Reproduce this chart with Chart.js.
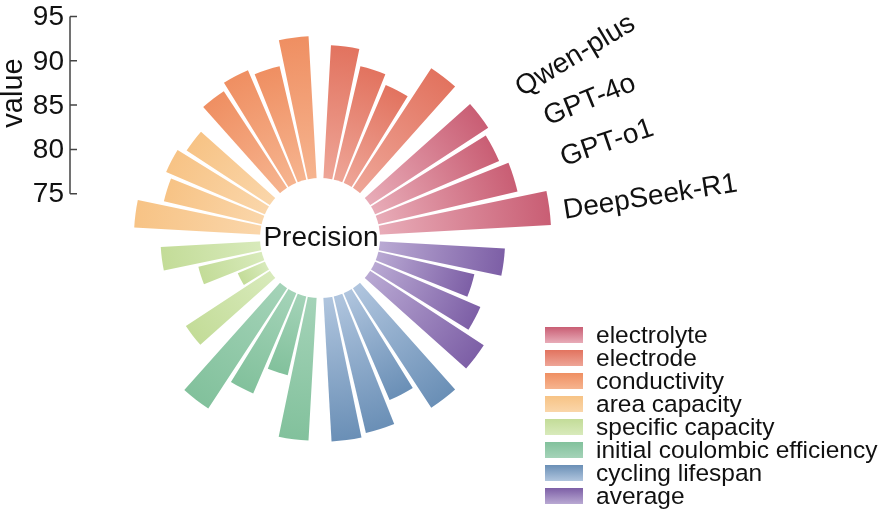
<!DOCTYPE html>
<html lang="en">
<head>
    <meta charset="UTF-8">
    <title>Precision</title>
    <script src="https://cdn.jsdelivr.net/npm/chart.js"></script>
    <style>
        html, body { margin: 0; padding: 0; background: #fff; }
        #wrap { position: relative; width: 883px; height: 512px; }
    </style>
</head>
<body>
<div id="wrap"><canvas id="myChart" width="883" height="512"></canvas></div>
<script>
// categories, counter-clockwise from the right
const categories = ['electrolyte', 'electrode', 'conductivity', 'area capacity',
    'specific capacity', 'initial coulombic efficiency', 'cycling lifespan', 'average'];
// models, counter-clockwise inside each group
const models = ['DeepSeek-R1', 'GPT-o1', 'GPT-4o', 'Qwen-plus'];

const deepseek = [96.1, 92.9, 92.8, 88.0, 88.0, 93.0, 93.0, 92.1];
const gpto1    = [92.9, 88.8, 89.9, 88.9, 84.1, 89.1, 92.6, 89.7];
const gpt4o    = [92.0, 89.9, 90.6, 88.1, 80.1, 85.9, 89.9, 87.9];
const qwen     = [92.7, 91.8, 89.8, 91.0, 88.1, 92.9, 92.9, 90.9];

const valueTicks = [75, 80, 85, 90, 95];

// styles
const outerColors = ['#c95e74', '#e2735f', '#ef8f62', '#f7c385', '#c3dc98', '#82c19c', '#6a8fb6', '#7d5fa6'];
const innerColors = ['#e8acb8', '#eea597', '#f6b48f', '#fad6aa', '#d8eabb', '#a4d3b8', '#b0c5de', '#b9a9d3'];
// model label placement: tilt, extra angle (deg) and distance from the centre (px)
const labelTilt  = [9, 19, 22, 31];
const labelShift = [-1.2, 0.65, 0.5, -0.8];
const labelDist  = [245, 254, 255, 247];
const FONT = '"Liberation Sans", Arial, sans-serif';
const HOLE_R = 60;
const BAR_DEG = 8.5, SMALL_GAP = 1.5, BIG_GAP = 6.5;

// build the element list clockwise (Chart.js draws clockwise)
const series = [deepseek, gpto1, gpt4o, qwen];
const items = [];
for (let c = categories.length - 1; c >= 0; c--) {
    for (let m = models.length - 1; m >= 0; m--) {
        items.push({ value: series[m][c], angle: BAR_DEG, cat: c, model: m, gap: false });
        items.push({ value: 70, angle: m > 0 ? SMALL_GAP : BIG_GAP, cat: c, model: m, gap: true });
    }
}

const decor = {
    id: 'decor',
    afterDatasetsDraw(chart) {
        const c = chart.ctx;
        const r = chart.scales.r;
        const cx = r.xCenter, cy = r.yCenter;
        const meta = chart.getDatasetMeta(0);
        c.save();

        // hole + title
        c.fillStyle = '#fff';
        c.beginPath();
        c.arc(cx, cy, HOLE_R, 0, Math.PI * 2);
        c.fill();
        c.fillStyle = '#111';
        c.font = '28px ' + FONT;
        c.textAlign = 'center';
        c.textBaseline = 'middle';
        c.fillText('Precision', cx + 1, cy);

        // value axis, same scale as the radius
        const ax = 70;
        const yOf = v => cy - r.getDistanceFromCenterForValue(v);
        c.strokeStyle = '#444';
        c.lineWidth = 1.5;
        c.beginPath();
        c.moveTo(ax, yOf(valueTicks[0]));
        c.lineTo(ax, yOf(valueTicks[valueTicks.length - 1]));
        valueTicks.forEach(v => {
            c.moveTo(ax, yOf(v));
            c.lineTo(ax + 7, yOf(v));
        });
        c.stroke();
        c.fillStyle = '#111';
        c.font = '28px ' + FONT;
        c.textAlign = 'right';
        valueTicks.forEach(v => c.fillText(String(v), ax - 6, yOf(v) + 1));
        c.save();
        c.translate(14, 93);
        c.rotate(-Math.PI / 2);
        c.textAlign = 'center';
        c.font = '29px ' + FONT;
        c.fillText('value', 0, 0);
        c.restore();

        // model labels next to the first group
        c.font = '28px ' + FONT;
        c.textAlign = 'left';
        items.forEach((it, i) => {
            if (it.gap || it.cat !== 0) return;
            const arc = meta.data[i];
            const a = (arc.startAngle + arc.endAngle) / 2 - labelShift[it.model] * Math.PI / 180;
            const d = labelDist[it.model];
            c.save();
            c.translate(cx + Math.cos(a) * d, cy + Math.sin(a) * d);
            c.rotate(-labelTilt[it.model] * Math.PI / 180);
            c.fillText(models[it.model], 0, 0);
            c.restore();
        });

        // legend
        c.font = '24.5px ' + FONT;
        c.textAlign = 'left';
        categories.forEach((name, k) => {
            const y = 335 + k * 23;
            const g = c.createLinearGradient(0, y - 8, 0, y + 8);
            g.addColorStop(0, outerColors[k]);
            g.addColorStop(1, innerColors[k]);
            c.fillStyle = g;
            c.fillRect(545, y - 8, 38, 16);
            c.fillStyle = '#111';
            c.fillText(name, 596, y + 1);
        });
        c.restore();
    }
};

const ctx = document.getElementById('myChart').getContext('2d');
const myChart = new Chart(ctx, {
    type: 'polarArea',
    data: {
        labels: items.map(it => it.gap ? '' : categories[it.cat] + ' ' + models[it.model]),
        datasets: [{
            data: items.map(it => it.value),
            angle: c => items[c.dataIndex] ? items[c.dataIndex].angle : undefined,
            borderWidth: 0,
            backgroundColor: c => {
                const it = items[c.dataIndex];
                if (!it || it.gap) return 'rgba(0,0,0,0)';
                const s = c.chart.scales.r;
                if (!s || !c.chart.chartArea) return outerColors[it.cat];
                const r1 = s.getDistanceFromCenterForValue(it.value);
                const g = c.chart.ctx.createRadialGradient(s.xCenter, s.yCenter, HOLE_R, s.xCenter, s.yCenter, r1);
                g.addColorStop(0, innerColors[it.cat]);
                g.addColorStop(1, outerColors[it.cat]);
                return g;
            }
        }]
    },
    options: {
        responsive: false,
        animation: false,
        events: [],
        layout: { padding: { left: 82, right: 325, top: 0, bottom: 36 } },
        plugins: { legend: { display: false }, tooltip: { enabled: false } },
        scales: {
            r: {
                min: 70,
                max: 96.86,
                startAngle: 93.25,
                beginAtZero: false,
                grid: { display: false },
                angleLines: { display: false },
                ticks: { display: false },
                pointLabels: { display: false }
            }
        }
    },
    plugins: [decor]
});
</script>
</body>
</html>
